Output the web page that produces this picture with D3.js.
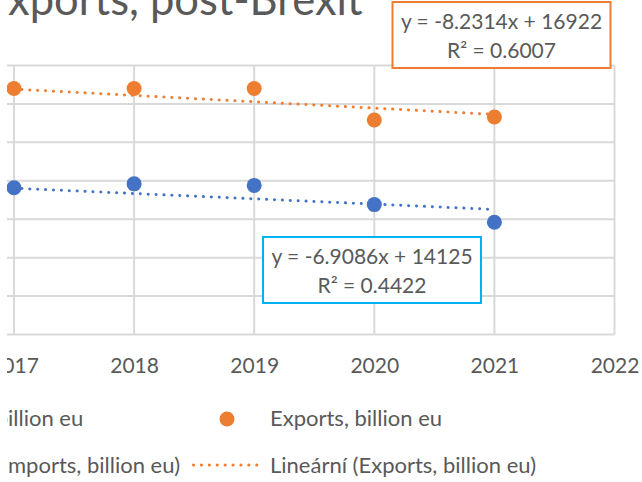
<!DOCTYPE html>
<html lang="en">
<head>
<meta charset="UTF-8">
<title>Exports, post-Brexit</title>
<script src="https://cdn.jsdelivr.net/npm/d3@7"></script>
<style>
  body { margin: 0; background: #fff; }
  text { font-family: Lato, "Open Sans", sans-serif; fill: #595959; }
</style>
</head>
<body>
<script>
// values (billion eu)
var years = [2017, 2018, 2019, 2020, 2021];
var imports = [191, 196, 194, 169, 146];
var exports = [320, 320, 320, 279, 283];

// excel linear trend lines: [slope, intercept], R²
var importsTrend = [-6.9086, 14125];
var exportsTrend = [-8.2314, 16922];
var importsR2 = "0.4422";
var exportsR2 = "0.6007";

var xTicks = [2016, 2017, 2018, 2019, 2020, 2021, 2022];
var yTicks = [0, 50, 100, 150, 200, 250, 300, 350];

var titleText = "Imports and Exports, post-Brexit";
var legendNames = ["Imports, billion eu", "Exports, billion eu",
                   "Lineární (Imports, billion eu)", "Lineární (Exports, billion eu)"];

var blue = "#4472C4", orange = "#ED7D31", grid = "#D9D9D9";

var svg = d3.select("body").append("svg")
    .attr("width", 642)
    .attr("height", 482);

// the picture is a crop: nothing left of x=7 shows
svg.append("clipPath").attr("id", "crop")
  .append("rect").attr("x", 7).attr("y", 0).attr("width", 635).attr("height", 482);

var g = svg.append("g").attr("clip-path", "url(#crop)");

var x = d3.scaleLinear().domain([2017, 2022]).range([14, 614.5]);
var y = d3.scaleLinear().domain([0, 350]).range([334.5, 65.5]);

// put text so that the part from `from` on starts at xx (rest is cropped)
function cropText(sel, str, from, xx) {
  var cut = sel.node().getSubStringLength(0, str.indexOf(from));
  sel.attr("x", xx - cut);
}

// title
var title = g.append("text")
    .attr("y", 15)
    .attr("font-size", 43.5)
    .text(titleText);
cropText(title, titleText, "xports", 8);

// grid
g.selectAll("line.h").data(yTicks).enter().append("line")
    .attr("class", "h")
    .attr("x1", x(2016)).attr("x2", x(2022))
    .attr("y1", function(d) { return y(d); })
    .attr("y2", function(d) { return y(d); })
    .attr("stroke", grid).attr("stroke-width", 2);

g.selectAll("line.v").data(xTicks).enter().append("line")
    .attr("class", "v")
    .attr("x1", function(d) { return x(d); })
    .attr("x2", function(d) { return x(d); })
    .attr("y1", y(350)).attr("y2", y(0))
    .attr("stroke", grid).attr("stroke-width", 2);

// x axis labels
var xAxis = d3.axisBottom(x).tickValues(xTicks).tickFormat(d3.format("d")).tickSize(0);
var ax = g.append("g").attr("transform", "translate(0," + y(0) + ")").call(xAxis);
ax.select(".domain").remove();
ax.selectAll("text")
    .attr("y", 38.5).attr("dy", null)
    .attr("font-size", 21)
    .attr("fill", "#595959")
    .style("font-family", "Lato, sans-serif");

// trend lines
function trendLine(t, color) {
  g.append("line")
    .attr("x1", x(years[0])).attr("x2", x(years[years.length - 1]))
    .attr("y1", y(t[0] * years[0] + t[1]))
    .attr("y2", y(t[0] * years[years.length - 1] + t[1]))
    .attr("stroke", color).attr("stroke-width", 3)
    .attr("stroke-linecap", "round")
    .attr("stroke-dasharray", "0.1 7.8");
}
trendLine(exportsTrend, orange);
trendLine(importsTrend, blue);

// points
function points(vals, color) {
  g.selectAll(null).data(vals).enter().append("circle")
    .attr("cx", function(d, i) { return x(years[i]); })
    .attr("cy", function(d) { return y(d); })
    .attr("r", 7.5)
    .attr("fill", color);
}
points(exports, orange);
points(imports, blue);

// equation boxes
function eqBox(t, r2, color, bx, by) {
  var b = g.append("g").attr("transform", "translate(" + bx + "," + by + ")");
  b.append("rect").attr("width", 218).attr("height", 66)
    .attr("fill", "#fff").attr("stroke", color).attr("stroke-width", 2);
  var sign = t[1] < 0 ? " - " : " + ";
  b.append("text").attr("x", 109).attr("y", 27).attr("text-anchor", "middle")
    .attr("font-size", 21)
    .text("y = " + t[0] + "x" + sign + Math.abs(t[1]));
  b.append("text").attr("x", 109).attr("y", 56).attr("text-anchor", "middle")
    .attr("font-size", 21)
    .text("R² = " + r2);
}
eqBox(exportsTrend, exportsR2, orange, 392.5, 2);
eqBox(importsTrend, importsR2, "#00B0F0", 263, 237);

// legend
var leg = g.append("g");
function legText(str, xx, yy) {
  return leg.append("text").attr("x", xx).attr("y", yy)
    .attr("font-size", 22).text(str);
}
// left column is cut off by the crop
var t0 = legText(legendNames[0], 0, 426);
var t2 = legText(legendNames[2], 0, 473);
cropText(t0, legendNames[0], "illion", 8);
cropText(t2, legendNames[2], "mports", 8);
legText(legendNames[1], 270, 426);
legText(legendNames[3], 270, 473);

var s0 = +t0.attr("x");
var s2 = +t2.attr("x");
leg.append("circle").attr("cx", s0 - 43).attr("cy", 419).attr("r", 7.5).attr("fill", blue);
leg.append("circle").attr("cx", 227).attr("cy", 419).attr("r", 7.5).attr("fill", orange);

function legLine(x1, color) {
  leg.append("line").attr("x1", x1).attr("x2", x1 + 66)
    .attr("y1", 465).attr("y2", 465)
    .attr("stroke", color).attr("stroke-width", 3)
    .attr("stroke-linecap", "round").attr("stroke-dasharray", "0.1 7.8");
}
legLine(s2 - 77, blue);
legLine(193.5, orange);
</script>
</body>
</html>
